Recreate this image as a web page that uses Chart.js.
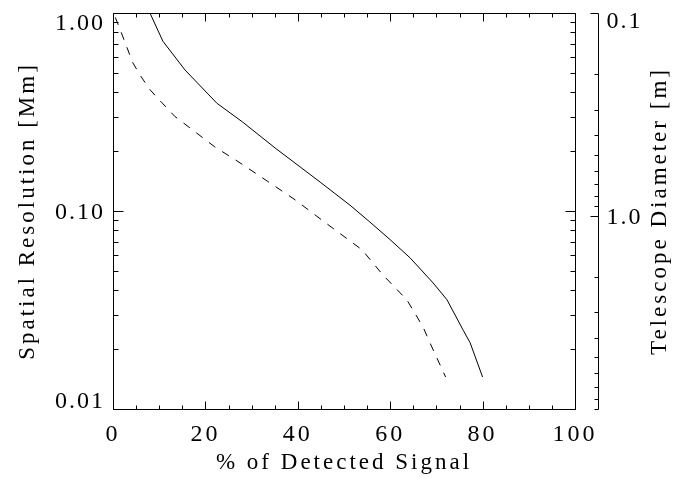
<!DOCTYPE html>
<html>
<head>
<meta charset="utf-8">
<script src="https://cdn.jsdelivr.net/npm/chart.js@4.4.0/dist/chart.umd.min.js"></script>
<style>
  html, body { margin: 0; padding: 0; background: #fff; }
</style>
</head>
<body>
<canvas id="myChart" width="697" height="478"></canvas>
<script>
// % of detected signal vs spatial resolution [Mm]
const pctSolid = [8.0, 10.8, 15.6, 22.5, 28.0, 35.1, 40.5, 45.0, 51.3, 55.6, 60.0, 64.3, 69.3, 72.3, 75.8, 77.3, 80.0];
const resSolid = [1.00, 0.72, 0.515, 0.350, 0.282, 0.208, 0.167, 0.139, 0.107, 0.088, 0.0716, 0.058, 0.0433, 0.0356, 0.025, 0.0216, 0.0145];

const pctDashed = [0.5, 1.5, 2.6, 4.3, 6.0, 8.0, 10.6, 13.4, 15.2, 22.0, 27.5, 33.5, 39.4, 45.2, 53.9, 58.4, 63.6, 67.1, 68.6, 72.0];
const resDashed = [0.95, 0.83, 0.71, 0.56, 0.48, 0.41, 0.352, 0.300, 0.279, 0.211, 0.175, 0.141, 0.114, 0.090, 0.0637, 0.0476, 0.0356, 0.026, 0.0216, 0.0145];

const xTickLabels = [0, 20, 40, 60, 80, 100];
const yTickLabels = [0.01, 0.10, 1.00];
const diameterTickLabels = [0.1, 1.0];

const xTitle = "% of Detected Signal";
const yTitle = "Spatial Resolution [Mm]";
const y2Title = "Telescope Diameter [m]";

const fontFamily = "'Liberation Serif', 'Times New Roman', serif";
const titleFont = {family: fontFamily, size: 23, lineHeight: 1.2};
const tickFont = {family: fontFamily, size: 24, lineHeight: 1.2};
const titleCss = "23px " + fontFamily;
const tickCss = "24px " + fontFamily;

Chart.defaults.color = '#000';

const toPoints = (xs, ys) => xs.map((x, i) => ({x: x, y: ys[i]}));

// log minor tick values between lo and hi
function logTicks(lo, hi) {
  const out = [];
  for (let d = Math.floor(Math.log10(lo)); d <= Math.ceil(Math.log10(hi)); d++) {
    for (let m = 1; m <= 9; m++) {
      const v = m * Math.pow(10, d);
      if (v >= lo * 0.999 && v <= hi * 1.001) out.push({v: v, major: m === 1});
    }
  }
  return out;
}

const crisp = p => Math.round(p) + 0.5;

const axesPlugin = {
  id: 'idlAxes',
  beforeDraw(chart) {
    chart.ctx.letterSpacing = '3px';
  },
  afterDraw(chart) {
    const {ctx, chartArea: a} = chart;
    const x = chart.scales.x, y = chart.scales.y, y2 = chart.scales.y2;
    const L = crisp(a.left), R = crisp(a.right), T = crisp(a.top), B = crisp(a.bottom);
    ctx.save();
    ctx.strokeStyle = '#000';
    ctx.lineWidth = 1;
    ctx.beginPath();
    ctx.rect(L, T, R - L, B - T);
    // x ticks, bottom and top, pointing in
    for (let v = 0; v <= 100; v += 5) {
      const px = crisp(x.getPixelForValue(v));
      const len = xTickLabels.includes(v) ? 8 : 4;
      ctx.moveTo(px, B); ctx.lineTo(px, B - len);
      ctx.moveTo(px, T); ctx.lineTo(px, T + len);
    }
    // y ticks, left and right of the frame
    logTicks(0.01, 1).forEach(t => {
      const py = crisp(y.getPixelForValue(t.v));
      const len = t.major ? 10 : 5;
      ctx.moveTo(L, py); ctx.lineTo(L + len, py);
      ctx.moveTo(R, py); ctx.lineTo(R - len, py);
    });
    // separate diameter axis
    const AX = crisp(a.right + 23);
    ctx.moveTo(AX, crisp(y2.top)); ctx.lineTo(AX, crisp(y2.bottom));
    logTicks(y2.min, y2.max).forEach(t => {
      const py = crisp(y2.getPixelForValue(t.v));
      const len = t.major ? 8 : 4;
      ctx.moveTo(AX, py); ctx.lineTo(AX - len, py);
    });
    ctx.stroke();

    // tick labels
    ctx.fillStyle = '#000';
    ctx.font = tickCss;
    ctx.letterSpacing = '2px';
    ctx.textBaseline = 'middle';
    const place = (py, lo) => Math.min(Math.max(py + 2, a.top + lo), a.bottom - 7);
    ctx.textAlign = 'right';
    yTickLabels.forEach(v => {
      ctx.fillText(v.toFixed(2), a.left - 8, place(y.getPixelForValue(v), 11));
    });
    ctx.textAlign = 'left';
    diameterTickLabels.forEach(v => {
      ctx.fillText(v.toFixed(1), AX + 8, place(y2.getPixelForValue(v), 9));
    });
    // right title, reading upward
    ctx.font = titleCss;
    ctx.letterSpacing = '3px';
    ctx.textAlign = 'center';
    ctx.translate(660, (a.top + a.bottom) / 2);
    ctx.rotate(-Math.PI / 2);
    ctx.fillText(y2Title, 0, 0);
    ctx.restore();
  }
};

const data = {
  datasets: [{
    data: toPoints(pctSolid, resSolid),
    borderColor: '#000',
    borderWidth: 1
  }, {
    data: toPoints(pctDashed, resDashed),
    borderColor: '#000',
    borderWidth: 1,
    borderDash: [8, 8]
  }]
};

const config = {
  type: 'line',
  data: data,
  options: {
    responsive: false,
    animation: false,
    layout: {padding: {top: 13, right: 122, bottom: 0, left: 0}},
    elements: {point: {radius: 0}, line: {tension: 0}},
    plugins: {
      legend: {display: false},
      tooltip: {enabled: false}
    },
    scales: {
      x: {
        type: 'linear',
        min: 0,
        max: 100,
        ticks: {stepSize: 20, font: tickFont, padding: 11, maxRotation: 0},
        grid: {display: false, drawTicks: false},
        border: {display: false},
        title: {display: true, text: xTitle, font: titleFont, padding: {top: 0, bottom: 1}},
        afterFit: s => { s.height = 69; }
      },
      y: {
        type: 'logarithmic',
        min: 0.01,
        max: 1,
        ticks: {display: false},
        grid: {display: false, drawTicks: false},
        border: {display: false},
        title: {display: true, text: yTitle, font: titleFont, padding: {top: 14, bottom: 0}},
        afterFit: s => { s.width = 113; }
      },
      y2: {
        type: 'logarithmic',
        position: 'right',
        reverse: true,
        min: 0.1,
        max: 9,
        display: false
      }
    }
  },
  plugins: [axesPlugin]
};

const canvas = document.getElementById('myChart');
const myChart = new Chart(canvas, config);
</script>
</body>
</html>
